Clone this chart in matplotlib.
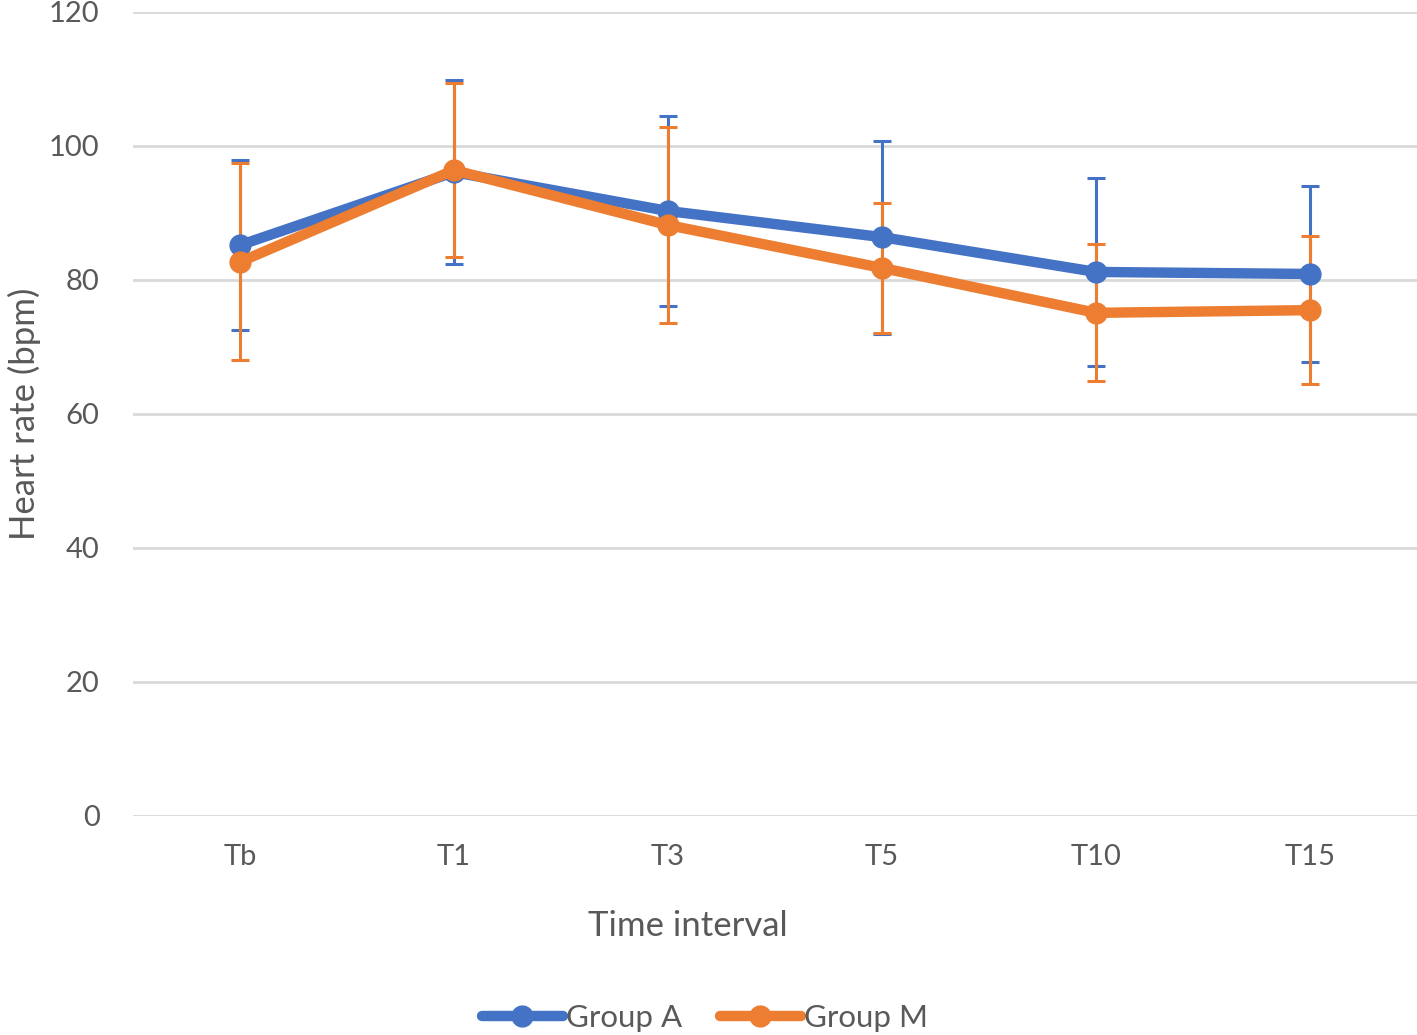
import matplotlib
matplotlib.use('Agg')
from matplotlib import pyplot as plt

# data
times = ['Tb', 'T1', 'T3', 'T5', 'T10', 'T15']
group_a = [85.2, 96.1, 90.3, 86.4, 81.2, 80.9]
group_a_sd = [12.7, 13.7, 14.2, 14.4, 14.0, 13.1]
group_m = [82.7, 96.4, 88.2, 81.8, 75.1, 75.5]
group_m_sd = [14.7, 13.0, 14.6, 9.7, 10.2, 11.0]

blue = '#4472C4'
orange = '#ED7D31'
grey = '#595959'

plt.rcParams['font.family'] = ['Lato', 'DejaVu Sans']

fig = plt.figure(figsize=(14.17, 10.35), dpi=100)
ax = fig.add_axes([133 / 1417, 1 - 816 / 1035, (1417 - 133) / 1417, (816 - 12) / 1035])

x = list(range(len(times)))

# error bars first, lines on top
ax.errorbar(x, group_a, yerr=group_a_sd, fmt='none', ecolor=blue,
            elinewidth=2.2, capsize=6.5, capthick=2.2, zorder=2)
ax.errorbar(x, group_m, yerr=group_m_sd, fmt='none', ecolor=orange,
            elinewidth=2.2, capsize=6.5, capthick=2.2, zorder=2.1)
ax.plot(x, group_a, color=blue, lw=7.5, marker='o', ms=15, label='Group A',
        zorder=3, solid_capstyle='round')
ax.plot(x, group_m, color=orange, lw=7.5, marker='o', ms=15, label='Group M',
        zorder=3.1, solid_capstyle='round')

ax.set_xlim(-0.5, 5.5)
ax.set_ylim(0, 120)
ax.set_yticks(range(0, 121, 20))
ax.set_xticks(x)
ax.set_xticklabels(times)
ax.yaxis.grid(True, color='#d9d9d9', lw=2)
ax.set_axisbelow(True)
for s in ax.spines.values():
    s.set_visible(False)
ax.tick_params(length=0, labelsize=21, colors=grey)
ax.tick_params(axis='x', pad=20)
ax.tick_params(axis='y', pad=24)

ax.set_xlabel('Time interval', fontsize=25, color=grey)
ax.xaxis.set_label_coords((688 - 133) / 1284, (816 - 910) / 804)
ax.set_ylabel('Heart rate (bpm)', fontsize=25, color=grey, labelpad=6)

fig.legend(loc='center', bbox_to_anchor=(705 / 1417, 17 / 1035), ncol=2, frameon=False,
           fontsize=22.5, labelcolor=grey, handlelength=2.6, handletextpad=0.1,
           columnspacing=1.2)

fig.savefig('out.png', dpi=100)
